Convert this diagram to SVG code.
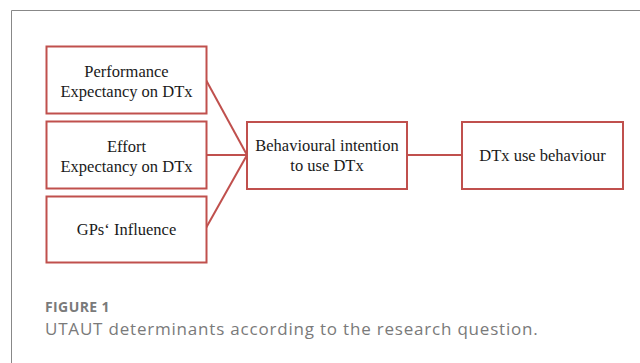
<svg xmlns="http://www.w3.org/2000/svg" width="640" height="363" viewBox="0 0 640 363">
<style>
.box{fill:#fff;stroke:#c0504d;stroke-width:2}
.conn{stroke:#c0504d;stroke-width:2;fill:none}
.t{font-family:"Liberation Serif","Times New Roman",serif;font-size:16.5px;fill:#1a1a1a;text-anchor:middle}
.cap1{font-family:"Open Sans",sans-serif;font-size:14px;font-weight:bold;fill:#7a7a7a;letter-spacing:0.4px}
.cap2{font-family:"Open Sans",sans-serif;font-size:17px;fill:#7a7a7a;letter-spacing:0.8px}
</style>
<rect x="0" y="0" width="640" height="363" fill="#fff"/>
<path d="M11.5,363 V10.5 H640" fill="none" stroke="#888" stroke-width="1"/>
<g id="connectors">
<line class="conn" x1="206" y1="80" x2="247" y2="155"/>
<line class="conn" x1="206" y1="155" x2="247" y2="155"/>
<line class="conn" x1="206" y1="228" x2="247" y2="155"/>
<line class="conn" x1="407" y1="155" x2="462" y2="155"/>
</g>
<g id="performance">
<rect class="box" x="46.5" y="46.5" width="160" height="67"/>
<text class="t" x="126.5" y="77">Performance</text>
<text class="t" x="126.5" y="97">Expectancy on DTx</text>
</g>
<g id="effort">
<rect class="box" x="46.5" y="121.5" width="160" height="67"/>
<text class="t" x="126.5" y="152">Effort</text>
<text class="t" x="126.5" y="172">Expectancy on DTx</text>
</g>
<g id="gps">
<rect class="box" x="46.5" y="196.5" width="160" height="66"/>
<text class="t" x="126.5" y="235">GPs‘ Influence</text>
</g>
<g id="intention">
<rect class="box" x="247" y="122" width="160" height="67"/>
<text class="t" x="327" y="151">Behavioural intention</text>
<text class="t" x="327" y="171">to use DTx</text>
</g>
<g id="usebehaviour">
<rect class="box" x="462" y="122" width="161" height="67"/>
<text class="t" x="542.5" y="161">DTx use behaviour</text>
</g>
<text class="cap1" x="45" y="312">FIGURE 1</text>
<text class="cap2" x="45" y="335">UTAUT determinants according to the research question.</text>
</svg>
